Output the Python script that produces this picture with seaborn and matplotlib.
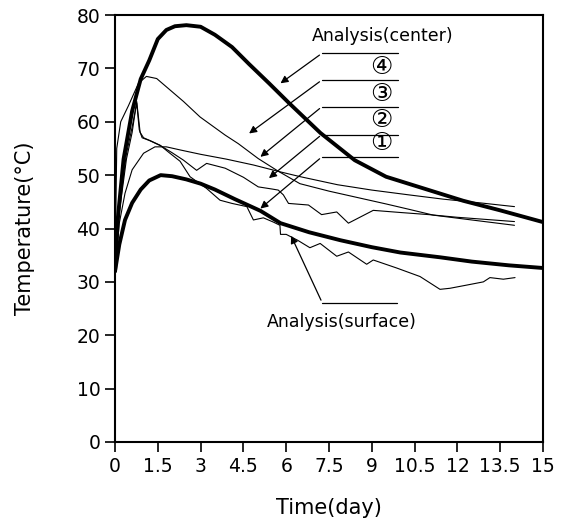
import numpy as np
import pandas as pd
import matplotlib
matplotlib.use("Agg")
import matplotlib.pyplot as plt
import seaborn as sns

# analysis curves (thick)
center_x = [0, 0.1, 0.3, 0.6, 0.9, 1.2, 1.5, 1.8, 2.1, 2.5, 3.0, 3.5, 4.1, 4.7, 5.4, 6.1, 7.2, 8.4, 9.5, 11, 12.2, 13.5, 15]
center_y = [32, 42, 53, 62, 68, 71.5, 75.5, 77.2, 77.9, 78.1, 77.8, 76.3, 74.0, 70.8, 67.2, 63.5, 57.9, 52.8, 49.7, 47.2, 45.2, 43.4, 41.2]

surface_x = [0, 0.15, 0.35, 0.6, 0.9, 1.2, 1.6, 2.0, 2.5, 3.0, 3.5, 4.2, 5.1, 5.8, 6.8, 7.9, 9.0, 10.0, 11.4, 12.5, 13.8, 15]
surface_y = [32, 37, 41.6, 44.8, 47.3, 49.0, 50.0, 49.8, 49.2, 48.4, 47.3, 45.5, 43.3, 41.0, 39.3, 37.8, 36.5, 35.5, 34.6, 33.8, 33.1, 32.6]

# measured curves (thin)
m4_x = [0, 0.06, 0.2, 0.47, 0.82, 1.1, 1.46, 1.81, 2.4, 2.98, 3.86, 4.32, 5.02, 5.7, 6.48, 7.5, 8.5, 9.5, 10.3, 11.16, 12.5, 14.0]
m4_y = [32, 55, 60, 63, 67.2, 68.5, 68.1, 66.5, 63.8, 60.9, 57.5, 55.9, 53.1, 50.8, 48.4, 47.0, 45.8, 44.6, 43.6, 42.5, 41.6, 40.6]

m3_x = [0, 0.15, 0.35, 0.6, 1.0, 1.4, 1.8, 2.3, 3.0, 3.9, 4.85, 5.8, 6.5, 7.8, 9.0, 10.3, 11.5, 12.8, 14.0]
m3_y = [32, 41, 46.6, 51, 54.1, 55.3, 55.3, 54.7, 53.9, 53.0, 51.9, 50.6, 49.7, 48.2, 47.2, 46.3, 45.5, 44.8, 44.1]

m2_x = [0, 0.15, 0.4, 0.6, 0.76, 0.85, 0.95, 1.2, 1.6, 2.0, 2.4, 2.86, 3.21, 3.86, 4.5, 5.02, 5.5, 5.72, 5.9, 6.08,
        6.78, 7.24, 7.77, 8.18, 9.05, 10, 11, 12, 13, 14]
m2_y = [32, 44, 54, 59, 63.5, 58.5, 57, 56.5, 55.5, 54.2, 52.8, 50.9, 52.2, 51.3, 49.6, 47.8, 47.4, 47.2, 46.3, 44.7,
        44.4, 42.6, 43.1, 41.0, 43.4, 43.0, 42.6, 42.1, 41.7, 41.3]

m1_x = [0, 0.15, 0.4, 0.6, 0.76, 0.88, 1.0, 1.3, 1.58, 1.9, 2.28, 2.63, 3.21, 3.68, 4.1, 4.62, 4.85, 5.2, 5.55, 5.78,
        5.8, 6.0, 6.4, 6.83, 7.19, 7.77, 8.18, 8.82, 9.05, 9.87, 10.69, 11.39, 11.74, 12.33, 12.91, 13.14, 13.61, 14.02]
m1_y = [32, 43, 53, 58, 63.8, 58, 57, 56.3, 55.6, 54.2, 52.6, 49.7, 47.5, 45.3, 44.7, 44.1, 41.6, 42.0, 41.2, 40.6,
        38.9, 38.9, 37.8, 36.4, 37.2, 34.8, 35.6, 33.3, 34.1, 32.6, 31.0, 28.6, 28.8, 29.4, 30.0, 30.8, 30.5, 30.8]

x_ticks = [0, 1.5, 3, 4.5, 6, 7.5, 9, 10.5, 12, 13.5, 15]
x_tick_labels = ["0", "1.5", "3", "4.5", "6", "7.5", "9", "10.5", "12", "13.5", "15"]
y_ticks = [0, 10, 20, 30, 40, 50, 60, 70, 80]

sns.set_style("ticks")
plt.rcParams['font.family'] = ['DejaVu Sans', 'Noto Sans CJK JP']
plt.rcParams['text.color'] = 'black'
plt.rcParams['axes.labelcolor'] = 'black'

fig = plt.figure(figsize=(5.68, 5.29), dpi=100)
ax = fig.add_axes([0.2025, 0.1645, 0.7535, 0.8071])

thick = [(center_x, center_y), (surface_x, surface_y)]
thin = [(m4_x, m4_y), (m3_x, m3_y), (m2_x, m2_y), (m1_x, m1_y)]
for xs, ys in thick:
    sns.lineplot(x=xs, y=ys, color='black', linewidth=2.8, estimator=None, sort=False, ax=ax)
for xs, ys in thin:
    sns.lineplot(x=xs, y=ys, color='black', linewidth=0.8, estimator=None, sort=False, ax=ax)

ax.set_xlim(0, 15)
ax.set_ylim(0, 80)
ax.set_xticks(x_ticks)
ax.set_xticklabels(x_tick_labels)
ax.set_yticks(y_ticks)
ax.tick_params(direction='out', length=7, width=1.2, labelsize=13.5, colors='black')
for s in ax.spines.values():
    s.set_visible(True)
    s.set_color('black')
    s.set_linewidth(1.5)

ax.set_xlabel('Time(day)', fontsize=15, labelpad=16)
ax.set_ylabel('Temperature(°C)', fontsize=15, labelpad=30)

# leader lines with labels
arrow = dict(arrowstyle='-|>', color='black', lw=0.9, mutation_scale=11)
labels = ['④', '③', '②', '①']
rows = [67.8, 62.8, 57.6, 53.4]
tips = [(4.62, 57.5), (5.02, 53.1), (5.32, 49.1), (5.02, 43.4)]
label_y = [70.2, 65.2, 60.4, 56.0]

ax.plot([7.245, 9.93], [72.8, 72.8], color='black', lw=0.9)
ax.annotate('', xy=(5.72, 66.9), xytext=(7.245, 72.8), arrowprops=arrow)
ax.text(9.38, 76.1, 'Analysis(center)', fontsize=12.5, ha='center', va='center')
for lab, ry, tip, ly in zip(labels, rows, tips, label_y):
    ax.plot([7.245, 9.93], [ry, ry], color='black', lw=0.9)
    ax.annotate('', xy=tip, xytext=(7.245, ry), arrowprops=arrow)
    ax.text(9.35, ly, lab, fontsize=18, ha='center', va='center')

ax.plot([7.26, 9.88], [26.1, 26.1], color='black', lw=0.9)
ax.annotate('', xy=(6.13, 39.1), xytext=(7.26, 26.1), arrowprops=arrow)
ax.text(7.95, 22.4, 'Analysis(surface)', fontsize=12.5, ha='center', va='center')

fig.savefig('out.png', dpi=100)
